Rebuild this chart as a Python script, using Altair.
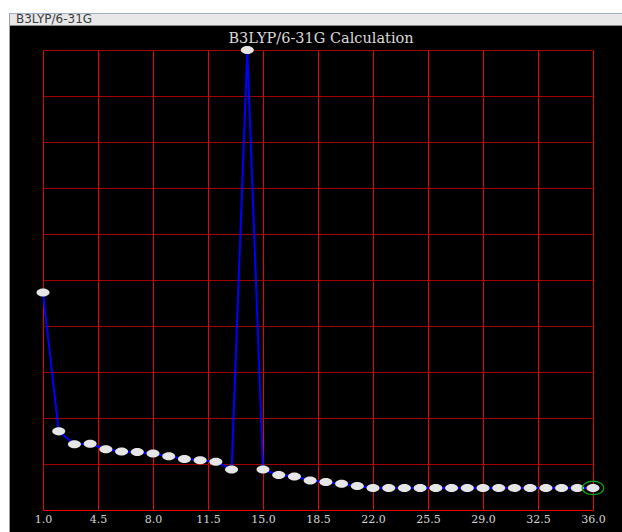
import altair as alt
import pandas as pd

# ---- data ----
steps = list(range(1, 37))
energy = [4.73, 1.71, 1.43, 1.44, 1.32, 1.27, 1.26, 1.23, 1.17, 1.11, 1.08, 1.05,
          0.88, 10.0, 0.88, 0.76, 0.73, 0.64, 0.61, 0.57, 0.52,
          0.48, 0.48, 0.48, 0.48, 0.48, 0.48, 0.48, 0.48, 0.48, 0.48, 0.48, 0.48,
          0.48, 0.48, 0.48]
x_ticks = [1.0, 4.5, 8.0, 11.5, 15.0, 18.5, 22.0, 25.5, 29.0, 32.5, 36.0]
y_grid = list(range(0, 11))
tab_label = "B3LYP/6-31G"
chart_title = "B3LYP/6-31G Calculation"

df = pd.DataFrame({"step": steps, "energy": energy})

W, H = 550, 460
ELLIPSE = "M -1 0 A 1 0.62 0 1 0 1 0 A 1 0.62 0 1 0 -1 0 Z"

xscale = alt.Scale(domain=[1, 36], nice=False, zero=False)
yscale = alt.Scale(domain=[0, 10], nice=False, zero=True)

xaxis = alt.Axis(values=x_ticks, format=".1f", title=None, ticks=False,
                 labelPadding=3, labelFont="DejaVu Serif", labelFontSize=11,
                 labelColor="#d4d4d4", domainColor="#f00000", domainWidth=1,
                 grid=True, gridColor="#f00000", gridWidth=1, labelFlush=False)
yaxis = alt.Axis(values=y_grid, labels=False, ticks=False, domain=False,
                 title=None, grid=True, gridColor="#a00000", gridWidth=1)

X = alt.X("step:Q", scale=xscale, axis=xaxis)
Y = alt.Y("energy:Q", scale=yscale, axis=yaxis)

base = alt.Chart(df).encode(x=X, y=Y)

line = base.mark_line(color="#0000ff", strokeWidth=2)

pts = base.mark_point(shape=ELLIPSE, size=170, filled=True, fill="#e6e6e6",
                      opacity=1, strokeWidth=0)

ring = base.transform_filter(alt.datum.step == 36).mark_point(
    shape=ELLIPSE, size=470, filled=False, stroke="#00b000", strokeWidth=1.2,
    opacity=1)

one = alt.Data(values=[{"a": 1}])


def box(x1, x2, y1, y2, color):
    return alt.Chart(one).mark_rect(color=color, opacity=1).encode(
        x=alt.value(x1), x2=alt.value(x2), y=alt.value(y1), y2=alt.value(y2))


# window frame decorations (relative to plot origin at 43,50)
decor = [
    box(-43, 579, -50, -37, "#ffffff"),
    box(-35, 579, -37, -36, "#9fb0cc"),
    box(-33, 579, -36, -25, "#e8e8e8"),
    box(-33, 579, -25, -24, "#8a8a8a"),
    box(-43, -34, -50, 482, "#ffffff"),
    box(-34, -33, -36, 482, "#a0a0a0"),
]

tab_text = alt.Chart(one).mark_text(
    text=tab_label, font="DejaVu Sans", fontSize=12, color="#3a3a3a",
    align="left", baseline="alphabetic").encode(
    x=alt.value(-27), y=alt.value(-27))

title_text = alt.Chart(one).mark_text(
    text=chart_title, font="DejaVu Serif", fontSize=14.5, color="#dadada",
    align="center", baseline="alphabetic").encode(
    x=alt.value(278), y=alt.value(-7))

chart = alt.layer(*decor, tab_text, title_text, line, pts, ring).properties(
    width=W, height=H,
    autosize=alt.AutoSizeParams(type="none"),
    padding={"left": 43, "top": 50, "right": 29, "bottom": 22},
    background="#000000",
).configure_view(stroke=None, fill="#000000")

chart.save("out.html", embed_options={"renderer": "svg", "actions": False})
